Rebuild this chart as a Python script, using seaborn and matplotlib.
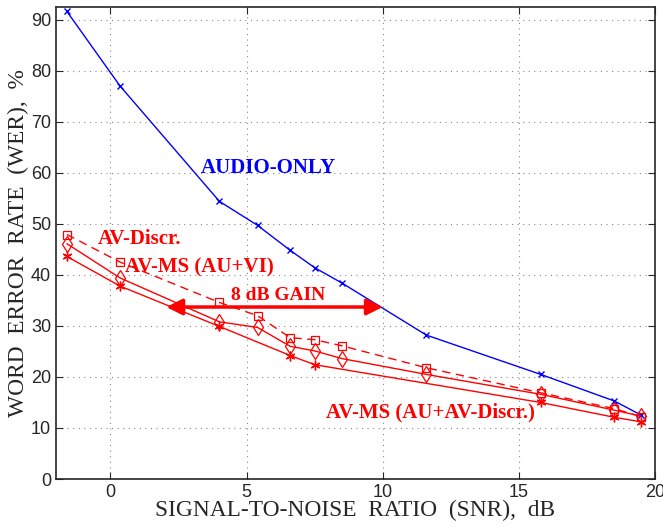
import numpy as np
import seaborn as sns
import matplotlib.pyplot as plt

# SNR values (dB) and word error rates (%)
snr = [-1.6, 0.35, 4.0, 5.4, 6.6, 7.5, 8.5, 11.6, 15.8, 18.5, 19.5]
wer_audio = [91.6, 77.0, 54.4, 49.7, 44.8, 41.4, 38.4, 28.2, 20.5, 15.3, 12.5]
wer_av_discr = [47.9, 42.5, 34.6, 32.0, 27.7, 27.3, 26.1, 21.8, 16.9, 13.8, 12.2]
wer_av_ms_vi = [46.1, 39.4, 30.8, 29.7, 26.0, 25.1, 23.6, 20.5, 16.6, 13.5, 12.3]
snr_star = [-1.6, 0.35, 4.0, 6.6, 7.5, 15.8, 18.5, 19.5]
wer_av_ms_discr = [43.6, 37.8, 29.9, 24.2, 22.4, 15.0, 12.1, 11.2]

sns.set_style("ticks")
plt.rcParams['font.family'] = ['Liberation Sans', 'DejaVu Sans']

fig = plt.figure(figsize=(6.63, 5.27), dpi=100)
ax = fig.add_axes([0.0845, 0.091, 0.9035, 0.896])

sns.lineplot(x=snr, y=wer_audio, ax=ax, color='blue', lw=1, marker='x',
             markersize=5, markeredgewidth=1, markeredgecolor='blue')
sns.lineplot(x=snr, y=wer_av_discr, ax=ax, color='red', lw=1,
             marker='s', markersize=5.5, fillstyle='none', markeredgewidth=0.9,
             markeredgecolor='red')
ax.lines[-1].set_linestyle((0, (6, 4)))
sns.lineplot(x=snr, y=wer_av_ms_vi, ax=ax, color='red', lw=1, marker='d',
             markersize=8, fillstyle='none', markeredgewidth=0.9,
             markeredgecolor='red')
sns.lineplot(x=snr_star, y=wer_av_ms_discr, ax=ax, color='red', lw=1,
             marker=(6, 2, 0), markersize=7, markeredgewidth=1,
             markeredgecolor='red')

# 8 dB gain arrow
ax.annotate('', xy=(2.05, 33.7), xytext=(10.0, 33.7),
            arrowprops=dict(arrowstyle='<|-|>', color='red', lw=2.5,
                            mutation_scale=24, shrinkA=0, shrinkB=0))

tfont = dict(family='Liberation Serif', weight='bold', fontsize=15)
ax.text(3.3, 61, 'AUDIO-ONLY', color='blue', va='center', **tfont)
ax.text(-0.45, 47.1, 'AV-Discr.', color='red', va='center', **tfont)
ax.text(0.55, 41.4, 'AV-MS (AU+VI)', color='red', va='center', **tfont)
ax.text(6.15, 35.9, '8 dB GAIN', color='red', va='center', ha='center',
        family='Liberation Serif', weight='bold', fontsize=14)
ax.text(7.9, 13.1, 'AV-MS (AU+AV-Discr.)', color='red', va='center', **tfont)

ax.set_xlim(-2, 20)
ax.set_ylim(0, 92.5)
ax.set_xticks([0, 5, 10, 15, 20])
ax.set_yticks(np.arange(0, 91, 10))
ax.grid(True, linestyle=(0, (1, 4)), color='#888888', lw=0.8)
ax.tick_params(direction='in', top=True, right=True, labelsize=13, length=5)
for s in ax.spines.values():
    s.set_linewidth(1.2)
    s.set_visible(True)

ax.set_xlabel('SIGNAL-TO-NOISE  RATIO  (SNR),  dB', family='Liberation Serif',
              fontsize=16.8, labelpad=-1)
ax.set_ylabel('WORD  ERROR  RATE  (WER),  %', family='Liberation Serif',
              fontsize=16.8, labelpad=1)

fig.savefig('out.png', dpi=100)
